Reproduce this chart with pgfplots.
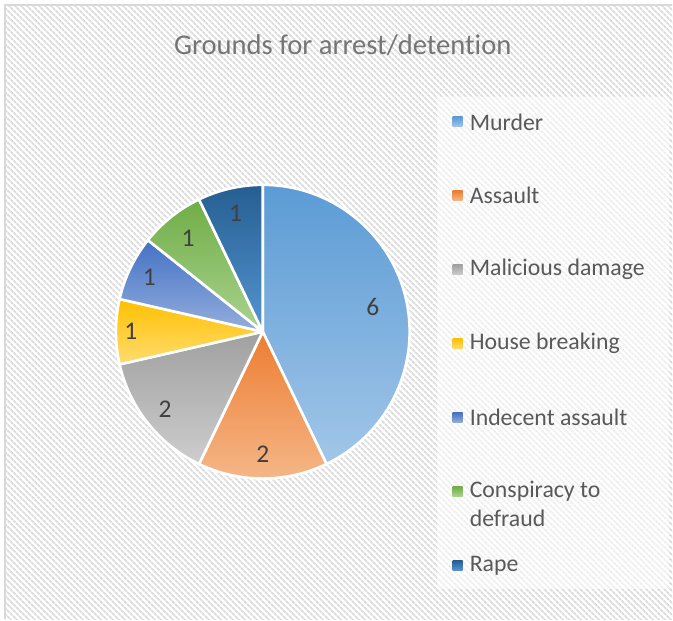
\documentclass[border=0pt]{standalone}
\usepackage{fontspec}
\setmainfont{Carlito}[Ligatures=NoCommon]
\usepackage{pgfplots}
\pgfplotsset{compat=1.18}
\usetikzlibrary{patterns.meta}

\definecolor{hatch}{HTML}{DCDCDC}
\definecolor{frame}{HTML}{D9D9D9}
\definecolor{titlegray}{HTML}{757575}
\definecolor{legtext}{HTML}{595959}
\definecolor{lbltext}{HTML}{404040}
\definecolor{murT}{HTML}{5B9BD5}\definecolor{murB}{HTML}{A2C6E8}
\definecolor{assT}{HTML}{ED7D31}\definecolor{assB}{HTML}{F5B88A}
\definecolor{malT}{HTML}{A0A0A0}\definecolor{malB}{HTML}{CDCDCD}
\definecolor{houT}{HTML}{FFC000}\definecolor{houB}{HTML}{FFDC70}
\definecolor{indT}{HTML}{4472C4}\definecolor{indB}{HTML}{95AEDD}
\definecolor{conT}{HTML}{70AD47}\definecolor{conB}{HTML}{AAD38F}
\definecolor{rapT}{HTML}{255E91}\definecolor{rapB}{HTML}{5595D2}

\begin{document}
\begin{tikzpicture}
\begin{axis}[x=1pt,y=1pt,xmin=0,xmax=673,ymin=0,ymax=620,
  hide axis,clip=false,disabledatascaling,scale only axis]
\pgfplotsextra{
  % background and frame
  \fill[white] (axis cs:0,0) rectangle (axis cs:673,620);
  \fill[pattern={Lines[angle=-45,distance=4pt,line width=1.8pt]},pattern color=hatch]
    (axis cs:5,0) rectangle (axis cs:673,615);
  \draw[frame,line width=1.2pt] (axis cs:5,0) -- (axis cs:5,615) -- (axis cs:673,615);
  % legend box
  \fill[white,opacity=0.55] (axis cs:437,30) rectangle (axis cs:670,523);
  % title
  \node[font=\fontsize{28.6}{32}\selectfont,text=titlegray] at (axis cs:343,575) {Grounds for arrest/detention};
  % pie: value / label radius / top colour / bottom colour
  \gdef\acc{90}
  \foreach \v/\lr/\ct/\cb in {6/113/murT/murB,2/123/assT/assB,2/125/malT/malB,
      1/132/houT/houB,1/126/indT/indB,1/120/conT/conB,1/122/rapT/rapB}{
    \pgfmathsetmacro\aS{\acc}
    \pgfmathsetmacro\aE{\acc-\v/14*360}
    \pgfmathsetmacro\aM{(\aS+\aE)/2}
    \shadedraw[top color=\ct,bottom color=\cb,draw=white,line width=2.6pt,line join=round]
      (axis cs:263,288) -- ++(\aS:147pt) arc[start angle=\aS,end angle=\aE,radius=147pt] -- cycle;
    \path (axis cs:263,288) ++(\aM:\lr pt) node[font=\fontsize{25.5}{28}\selectfont,text=lbltext] {\v};
    \xdef\acc{\aE}
  }
  % legend entries
  \foreach \yy/\ct/\cb/\txt in {498/murT/murB/Murder,424/assT/assB/Assault,
      350/malT/malB/Malicious damage,276/houT/houB/House breaking,
      202/indT/indB/Indecent assault,128/conT/conB/Conspiracy to,54/rapT/rapB/Rape}{
    \shade[top color=\ct,bottom color=\cb] (axis cs:453,\yy-5) rectangle (axis cs:463,\yy+5);
    \node[anchor=west,inner sep=0pt,font=\fontsize{23.8}{27}\selectfont,text=legtext] at (axis cs:470,\yy) {\txt};
  }
  \node[anchor=west,inner sep=0pt,font=\fontsize{23.8}{27}\selectfont,text=legtext] at (axis cs:470,101) {defraud};
}
\end{axis}
\end{tikzpicture}
\end{document}
